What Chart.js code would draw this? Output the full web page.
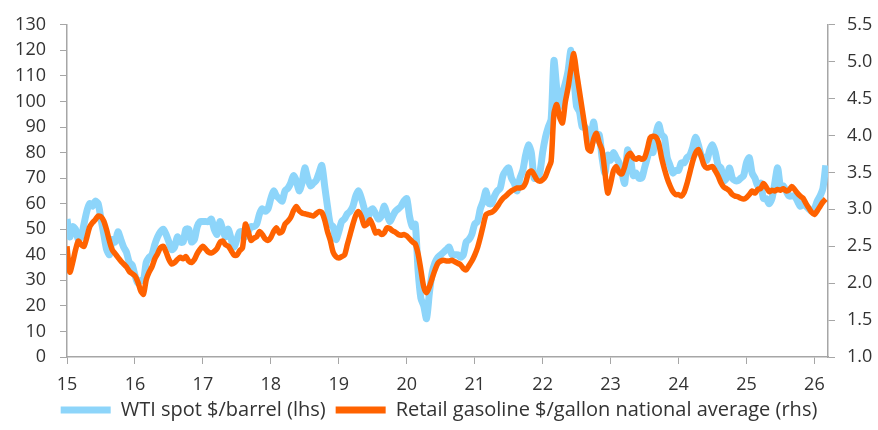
<!DOCTYPE html>
<html>
<head>
<meta charset="utf-8">
<script src="https://cdn.jsdelivr.net/npm/chart.js@4/dist/chart.umd.min.js"></script>
<style>
  html, body { margin: 0; padding: 0; background: #fff; }
  #wrap { width: 878px; height: 430px; position: relative; }
</style>
</head>
<body>
<div id="wrap"><canvas id="oilChart"></canvas></div>
<script>
// semi-monthly readings, first point at start of 2015 (x axis = year "15".."26")
const startYear = 15;
const stepsPerYear = 24;

// WTI spot $/barrel (lhs)
const wti2015 = [54,47, 51,50, 46,47, 52,57, 60,59, 61,60, 54,48, 42,40, 46,45, 49,46, 43,41, 37,36];
const wti2016 = [32,29, 30,30, 37,39, 40,44, 47,49, 50,48, 45,42, 43,47, 45,45, 50,50, 45,46, 51,53];
const wti2017 = [53,53, 53,54, 50,48, 53,50, 47,50, 46,43, 46,49, 49,47, 49,51, 51,52, 56,58, 57,58];
const wti2018 = [62,65, 63,62, 61,65, 66,68, 71,69, 65,68, 74,70, 67,68, 69,72, 75,67, 59,52, 51,46];
const wti2019 = [49,53, 54,56, 57,59, 63,65, 62,58, 53,57, 58,56, 54,55, 59,56, 53,55, 57,58, 59,61];
const wti2020 = [62,55, 51,52, 34,23, 20,15, 25,33, 37,39, 40,41, 42,43, 40,40, 40,39, 40,45, 46,48];
const wti2021 = [52,53, 58,61, 65,60, 60,63, 65,66, 71,73, 74,70, 68,65, 70,73, 79,83, 80,70, 70,72];
const wti2022 = [80,86, 90,93, 116,105, 98,103, 107,112, 120,110, 98,96, 90,90, 88,85, 92,85, 87,78, 72,79];
const wti2023 = [77,80, 78,76, 72,68, 81,78, 71,72, 70,70, 74,78, 82,80, 87,91, 87,86, 78,75, 72,73];
const wti2024 = [73,76, 76,78, 79,82, 86,83, 79,78, 77,81, 83,80, 75,74, 69,70, 74,70, 69,69, 70,71];
const wti2025 = [76,78, 72,70, 67,68, 62,62, 60,62, 68,74, 67,67, 65,63, 63,63, 61,59, 60,59, 58,57];
const wti2026 = [58,61, 63,66, 75];

// Retail gasoline $/gallon national average (rhs)
const gas2015 = [2.50,2.15, 2.28,2.45, 2.57,2.52, 2.50,2.62, 2.76,2.82, 2.86,2.91, 2.90,2.84, 2.72,2.57, 2.45,2.40, 2.35,2.30, 2.26,2.22, 2.16,2.13];
const gas2016 = [2.10,2.02, 1.90,1.85, 2.05,2.15, 2.22,2.33, 2.40,2.48, 2.50,2.42, 2.32,2.26, 2.28,2.32, 2.35,2.33, 2.36,2.30, 2.28,2.32, 2.40,2.46];
const gas2017 = [2.50,2.46, 2.42,2.41, 2.43,2.47, 2.55,2.57, 2.52,2.50, 2.44,2.38, 2.38,2.44, 2.48,2.80, 2.70,2.58, 2.61,2.63, 2.70,2.66, 2.60,2.58];
const gas2018 = [2.62,2.70, 2.75,2.68, 2.70,2.80, 2.84,2.89, 2.98,3.04, 2.98,2.95, 2.94,2.93, 2.92,2.91, 2.94,2.97, 2.96,2.86, 2.70,2.58, 2.42,2.36];
const gas2019 = [2.34,2.36, 2.38,2.52, 2.66,2.80, 2.92,2.97, 2.90,2.78, 2.80,2.86, 2.78,2.68, 2.70,2.66, 2.68,2.75, 2.74,2.71, 2.69,2.66, 2.65,2.66];
const gas2020 = [2.64,2.60, 2.56,2.53, 2.40,2.18, 1.95,1.87, 1.95,2.07, 2.18,2.27, 2.30,2.31, 2.30,2.30, 2.31,2.29, 2.27,2.25, 2.20,2.18, 2.24,2.30];
const gas2021 = [2.38,2.48, 2.62,2.78, 2.93,2.95, 2.96,2.99, 3.04,3.10, 3.15,3.18, 3.22,3.25, 3.27,3.29, 3.29,3.30, 3.36,3.49, 3.52,3.47, 3.40,3.38];
const gas2022 = [3.40,3.45, 3.55,3.65, 4.30,4.42, 4.25,4.17, 4.45,4.65, 4.90,5.11, 4.85,4.60, 4.35,4.10, 3.82,3.79, 3.95,4.03, 3.90,3.80, 3.50,3.22];
const gas2023 = [3.35,3.52, 3.58,3.50, 3.48,3.58, 3.72,3.76, 3.70,3.68, 3.70,3.68, 3.70,3.82, 3.97,3.99, 3.98,3.90, 3.70,3.55, 3.42,3.32, 3.24,3.20];
const gas2024 = [3.20,3.18, 3.23,3.35, 3.50,3.65, 3.76,3.81, 3.72,3.60, 3.56,3.57, 3.58,3.52, 3.45,3.36, 3.30,3.28, 3.25,3.20, 3.18,3.17, 3.15,3.14];
const gas2025 = [3.16,3.20, 3.25,3.22, 3.27,3.28, 3.35,3.30, 3.24,3.26, 3.25,3.27, 3.26,3.28, 3.25,3.26, 3.31,3.27, 3.22,3.18, 3.15,3.08, 3.02,2.96];
const gas2026 = [2.93,2.98, 3.04,3.10, 3.14];

const yearLabels = ['15','16','17','18','19','20','21','22','23','24','25','26'];
const leftTicks = [0,10,20,30,40,50,60,70,80,90,100,110,120,130];
const rightTicks = [1.0,1.5,2.0,2.5,3.0,3.5,4.0,4.5,5.0,5.5];

const wti = [].concat(wti2015, wti2016, wti2017, wti2018, wti2019, wti2020, wti2021, wti2022, wti2023, wti2024, wti2025, wti2026);
const gas = [].concat(gas2015, gas2016, gas2017, gas2018, gas2019, gas2020, gas2021, gas2022, gas2023, gas2024, gas2025, gas2026);

const toPoints = arr => arr.map((v, i) => ({ x: startYear + i / stepsPerYear, y: v }));

const textColor = '#333333';
const axisColor = '#a6a6a6';
const fontFamily = '"Open Sans", Lato, sans-serif';

window.addEventListener('DOMContentLoaded', () => {
    const ctx = document.getElementById('oilChart');

    new Chart(ctx, {
        type: 'line',
        data: {
            datasets: [{
                label: 'WTI spot $/barrel (lhs)',
                data: toPoints(wti),
                yAxisID: 'yLeft',
                borderColor: '#8dd5fa',
                backgroundColor: '#8dd5fa',
                borderWidth: 7,
                pointRadius: 0,
                tension: 0.25,
                borderJoinStyle: 'round',
                order: 1
            }, {
                label: 'Retail gasoline $/gallon national average (rhs)',
                data: toPoints(gas),
                yAxisID: 'yRight',
                borderColor: '#ff6200',
                backgroundColor: '#ff6200',
                borderWidth: 5.5,
                pointRadius: 0,
                tension: 0.25,
                borderJoinStyle: 'round',
                order: 0
            }]
        },
        options: {
            responsive: true,
            maintainAspectRatio: false,
            animation: false,
            layout: { padding: { top: 23, left: 0, right: 0, bottom: 0 } },
            plugins: {
                tooltip: { enabled: false },
                legend: {
                    position: 'bottom',
                    labels: {
                        color: textColor,
                        font: { family: fontFamily, size: 20 },
                        boxWidth: 50,
                        boxHeight: 7,
                        padding: 10,
                        sort: (a, b) => a.datasetIndex - b.datasetIndex,
                        // plain filled swatch, no thick outline
                        generateLabels: chart =>
                            Chart.defaults.plugins.legend.labels.generateLabels(chart)
                                .map(item => Object.assign(item, { lineWidth: 0 }))
                    }
                }
            },
            scales: {
                x: {
                    type: 'linear',
                    min: 15,
                    max: 26.2,
                    afterBuildTicks: scale => {
                        scale.ticks = yearLabels.map(l => ({ value: Number(l) }));
                    },
                    afterFit: scale => { scale.height = 33; },
                    ticks: {
                        color: textColor,
                        font: { family: fontFamily, size: 18 },
                        padding: 10,
                        maxRotation: 0,
                        callback: v => String(v)
                    },
                    grid: { drawOnChartArea: false, drawTicks: true, tickLength: 7, color: axisColor },
                    border: { color: axisColor, width: 1.5 }
                },
                yLeft: {
                    position: 'left',
                    min: 0,
                    max: 130,
                    afterBuildTicks: scale => {
                        scale.ticks = leftTicks.map(v => ({ value: v }));
                    },
                    afterFit: scale => { scale.width = 67; },
                    ticks: {
                        color: textColor,
                        font: { family: fontFamily, size: 18 },
                        padding: 14
                    },
                    grid: { drawOnChartArea: false, drawTicks: true, tickLength: 7, color: axisColor },
                    border: { color: axisColor, width: 1.5 }
                },
                yRight: {
                    position: 'right',
                    min: 1,
                    max: 5.5,
                    afterBuildTicks: scale => {
                        scale.ticks = rightTicks.map(v => ({ value: v }));
                    },
                    afterFit: scale => { scale.width = 50; },
                    ticks: {
                        color: textColor,
                        font: { family: fontFamily, size: 18 },
                        padding: 12,
                        callback: v => Number(v).toFixed(1)
                    },
                    grid: { drawOnChartArea: false, drawTicks: true, tickLength: 7, color: axisColor },
                    border: { color: axisColor, width: 1.5 }
                }
            }
        }
    });
});
</script>
</body>
</html>
